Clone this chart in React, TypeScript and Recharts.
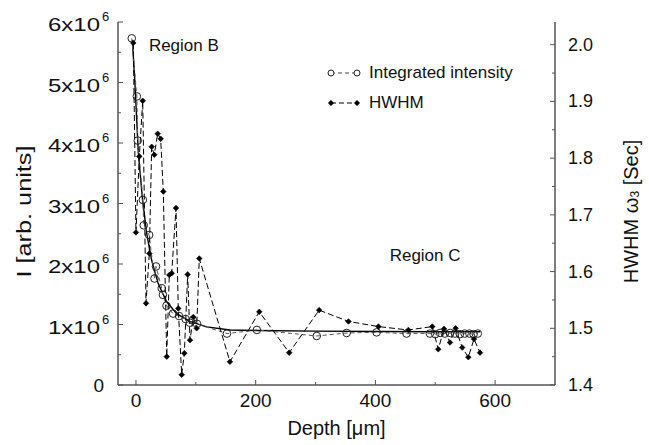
import React from 'react';
import {
  ComposedChart,
  Line,
  XAxis,
  YAxis,
  ReferenceDot,
} from 'recharts';

// ---- Data ----
// Integrated intensity (open circles), depth in µm, intensity in 1e6 arb. units
const intensityDepth = [
  -7, 1.5, 3, 11.5, 13, 22, 31, 33.5, 43, 45, 51, 62, 72, 83, 90, 95, 102, 152,
  202, 302, 352, 402, 452, 491, 500, 508, 516, 525, 533, 541, 549, 557, 564, 571,
];
const intensityValue = [
  5.73, 4.77, 4.04, 3.06, 2.64, 2.48, 1.76, 1.96, 1.6, 1.49, 1.31, 1.18, 1.14,
  1.09, 1.03, 1.07, 1.01, 0.85, 0.91, 0.81, 0.86, 0.87, 0.85, 0.85, 0.84, 0.86,
  0.85, 0.86, 0.85, 0.84, 0.85, 0.85, 0.84, 0.85,
];

// Fitted decay curve (solid line)
const fitDepth = [-6, -2, 4, 11, 18, 26, 37, 51, 68, 90, 118, 157, 200, 300, 400, 500, 575];
const fitValue = [
  5.7, 5.04, 3.83, 3.06, 2.5, 2.07, 1.68, 1.38, 1.18, 1.05, 0.96, 0.91, 0.9,
  0.89, 0.885, 0.88, 0.88,
];

// HWHM (filled diamonds), right axis
const hwhmDepth = [
  -4.4, 0, 5.6, 11.3, 16.8, 22.3, 26.3, 30.6, 36.3, 41.3, 45.7, 51.4, 55.7,
  59.7, 66.9, 70.7, 76.4, 80.8, 86.4, 90.3, 95.8, 101.4, 105.8, 157, 206, 256,
  306, 355, 405, 455, 495, 505, 514.6, 524.6, 534, 545, 555.2, 564.7, 574.7,
];
const hwhmValue = [
  2.003, 1.669, 1.803, 1.901, 1.544, 1.632, 1.82, 1.806, 1.843, 1.834, 1.741,
  1.45, 1.594, 1.597, 1.712, 1.535, 1.418, 1.456, 1.595, 1.479, 1.52, 1.5,
  1.623, 1.441, 1.529, 1.457, 1.532, 1.512, 1.503, 1.497, 1.503, 1.463, 1.499,
  1.475, 1.5, 1.466, 1.449, 1.481, 1.457,
];

// Ticks
const xTicks = [0, 100, 200, 300, 400, 500, 600];
const xMajor = [0, 200, 400, 600];
const leftTicks = [0, 0.5, 1, 1.5, 2, 2.5, 3, 3.5, 4, 4.5, 5, 5.5, 6];
const leftMajor = [0, 1, 2, 3, 4, 5, 6];
const rightTicks = [1.4, 1.45, 1.5, 1.55, 1.6, 1.65, 1.7, 1.75, 1.8, 1.85, 1.9, 1.95, 2.0];
const rightMajor = ['1.4', '1.5', '1.6', '1.7', '1.8', '1.9', '2.0'];

const intensityData = intensityDepth.map((x, i) => ({ x, y: intensityValue[i] }));
const fitData = fitDepth.map((x, i) => ({ x, y: fitValue[i] }));
const hwhmData = hwhmDepth.map((x, i) => ({ x, y: hwhmValue[i] }));

const FONT = 'Liberation Sans, Arial, Helvetica, sans-serif';
const INK = '#111';
const FRAME = '#555';

const isMajor = (list: number[], v: number) => list.some((m) => Math.abs(m - v) < 1e-9);

const BottomTick = (props: any) => {
  const { x, y, payload } = props;
  const v = payload.value as number;
  const major = isMajor(xMajor, v);
  return (
    <g>
      <line x1={x} x2={x} y1={y} y2={y - (major ? 5 : 3)} stroke={FRAME} strokeWidth={1} />
      {major && (
        <text x={x} y={y + 22} textAnchor="middle" fontSize={19} fontFamily={FONT} fill={INK}>
          {String(v)}
        </text>
      )}
    </g>
  );
};

const TopTick = (props: any) => {
  const { x, y, payload } = props;
  const major = isMajor(xMajor, payload.value);
  return <line x1={x} x2={x} y1={y} y2={y + (major ? 5 : 3)} stroke={FRAME} strokeWidth={1} />;
};

const LeftTick = (props: any) => {
  const { x, y, payload } = props;
  const v = payload.value as number;
  const major = isMajor(leftMajor, v);
  return (
    <g>
      <line x1={x} x2={x + (major ? 5 : 3)} y1={y} y2={y} stroke={FRAME} strokeWidth={1} />
      {major && v === 0 && (
        <text x={x - 14} y={y + 7} textAnchor="end" fontSize={19} fontFamily={FONT} fill={INK}>
          0
        </text>
      )}
      {major && v !== 0 && (
        <g>
          <text
            x={x - 70}
            y={y + 9}
            textAnchor="start"
            fontSize={19}
            fontFamily={FONT}
            fill={INK}
            textLength={52}
            lengthAdjust="spacingAndGlyphs"
          >
            {`${v}x10`}
          </text>
          <text x={x - 16} y={y - 1} textAnchor="start" fontSize={13} fontFamily={FONT} fill={INK}>
            6
          </text>
        </g>
      )}
    </g>
  );
};

const RightTick = (props: any) => {
  const { x, y, payload } = props;
  const v = payload.value as number;
  const label = rightMajor.find((m) => Math.abs(parseFloat(m) - v) < 1e-9);
  return (
    <g>
      <line x1={x} x2={x - (label ? 5 : 3)} y1={y} y2={y} stroke={FRAME} strokeWidth={1} />
      {label && (
        <text x={x + 13} y={y + 6} textAnchor="start" fontSize={18} fontFamily={FONT} fill={INK}>
          {label}
        </text>
      )}
    </g>
  );
};

const OpenCircle = (props: any) => {
  const { cx, cy, index } = props;
  if (cx == null || cy == null) return <g key={index} />;
  return <circle key={index} cx={cx} cy={cy} r={3.8} fill="none" stroke="#222" strokeWidth={1} />;
};

const Diamond = (props: any) => {
  const { cx, cy, index } = props;
  if (cx == null || cy == null) return <g key={index} />;
  const s = 2.8;
  return (
    <polygon
      key={index}
      points={`${cx},${cy - s} ${cx + s},${cy} ${cx},${cy + s} ${cx - s},${cy}`}
      fill="#000"
      stroke="#000"
      strokeWidth={0.6}
    />
  );
};

const LegendBox = () => (
  <div
    style={{
      position: 'absolute',
      left: 325,
      top: 58,
      fontFamily: FONT,
      fontSize: 17,
      color: INK,
      lineHeight: '30px',
    }}
  >
    <div style={{ display: 'flex', alignItems: 'center' }}>
      <svg width={40} height={12} style={{ marginRight: 4 }}>
        <line x1={6} x2={32} y1={6} y2={6} stroke="#444" strokeDasharray="4 3" />
        <circle cx={6} cy={6} r={3} fill="white" stroke="#222" />
        <circle cx={32} cy={6} r={3} fill="white" stroke="#222" />
      </svg>
      <span>Integrated intensity</span>
    </div>
    <div style={{ display: 'flex', alignItems: 'center' }}>
      <svg width={40} height={12} style={{ marginRight: 4 }}>
        <line x1={6} x2={32} y1={6} y2={6} stroke="#000" strokeDasharray="5 3" />
        <polygon points="6,3 9,6 6,9 3,6" fill="#000" />
        <polygon points="32,3 35,6 32,9 29,6" fill="#000" />
      </svg>
      <span>HWHM</span>
    </div>
  </div>
);

export default function App() {
  return (
    <div style={{ position: 'absolute', left: 0, top: 0, width: 649, height: 445, background: '#fff' }}>
      <ComposedChart
        width={649}
        height={445}
        margin={{ top: 22, right: 0, bottom: 0, left: 0 }}
      >
        <XAxis
          xAxisId="bottom"
          dataKey="x"
          type="number"
          domain={[-30, 700]}
          ticks={xTicks}
          interval={0}
          tickSize={0}
          tickMargin={0}
          tickLine={false}
          tick={<BottomTick />}
          height={60}
          axisLine={{ stroke: FRAME, strokeWidth: 1.5 }}
          allowDataOverflow
          label={{
            content: (p: any) => {
              const vb = p.viewBox;
              return (
                <text
                  x={vb.x + vb.width / 2}
                  y={vb.y + 50}
                  textAnchor="middle"
                  fontSize={20}
                  fontFamily={FONT}
                  fill={INK}
                >
                  Depth [μm]
                </text>
              );
            },
          }}
        />
        <XAxis
          xAxisId="top"
          orientation="top"
          dataKey="x"
          type="number"
          domain={[-30, 700]}
          ticks={xTicks}
          interval={0}
          tickSize={0}
          tickMargin={0}
          tickLine={false}
          tick={<TopTick />}
          height={0}
          axisLine={{ stroke: FRAME, strokeWidth: 1.5 }}
          allowDataOverflow
        />
        <YAxis
          yAxisId="left"
          type="number"
          domain={[0, 6]}
          ticks={leftTicks}
          interval={0}
          tickSize={0}
          tickMargin={0}
          tickLine={false}
          tick={<LeftTick />}
          width={118}
          axisLine={{ stroke: FRAME, strokeWidth: 1.5 }}
          allowDataOverflow
          label={{
            content: (p: any) => {
              const vb = p.viewBox;
              const cx = 23;
              const cy = vb.y + vb.height / 2 + 8;
              return (
                <text
                  x={cx}
                  y={cy}
                  transform={`rotate(-90 ${cx} ${cy})`}
                  textAnchor="middle"
                  dominantBaseline="central"
                  fontSize={21}
                  fontFamily={FONT}
                  fill={INK}
                  textLength={132}
                  lengthAdjust="spacingAndGlyphs"
                >
                  I [arb. units]
                </text>
              );
            },
          }}
        />
        <YAxis
          yAxisId="right"
          orientation="right"
          type="number"
          domain={[1.4, 2.04]}
          ticks={rightTicks}
          interval={0}
          tickSize={0}
          tickMargin={0}
          tickLine={false}
          tick={<RightTick />}
          width={94}
          axisLine={{ stroke: FRAME, strokeWidth: 1.5 }}
          allowDataOverflow
          label={{
            content: (p: any) => {
              const vb = p.viewBox;
              const cx = vb.x + 76;
              const cy = vb.y + vb.height / 2 + 8;
              return (
                <text
                  x={cx}
                  y={cy}
                  transform={`rotate(-90 ${cx} ${cy})`}
                  textAnchor="middle"
                  dominantBaseline="central"
                  fontSize={20}
                  fontFamily={FONT}
                  fill={INK}
                >
                  HWHM ω
                  <tspan fontSize={12} dy={4}>3</tspan>
                  <tspan dy={-4}> [Sec]</tspan>
                </text>
              );
            },
          }}
        />
        <Line
          data={fitData}
          xAxisId="bottom"
          yAxisId="left"
          dataKey="y"
          type="linear"
          stroke="#000"
          strokeWidth={1.4}
          dot={false}
          activeDot={false}
          isAnimationActive={false}
          legendType="none"
        />
        <Line
          data={intensityData}
          xAxisId="bottom"
          yAxisId="left"
          dataKey="y"
          type="linear"
          stroke="#555"
          strokeWidth={1}
          strokeDasharray="4 3"
          dot={<OpenCircle />}
          activeDot={false}
          isAnimationActive={false}
        />
        <Line
          data={hwhmData}
          xAxisId="bottom"
          yAxisId="right"
          dataKey="y"
          type="linear"
          stroke="#000"
          strokeWidth={1}
          strokeDasharray="6 3"
          dot={<Diamond />}
          activeDot={false}
          isAnimationActive={false}
        />
        <ReferenceDot
          xAxisId="bottom"
          yAxisId="left"
          x={80}
          y={5.62}
          r={0}
          fill="none"
          stroke="none"
          label={{ value: 'Region B', position: 'center', fontSize: 17, fontFamily: FONT, fill: INK }}
        />
        <ReferenceDot
          xAxisId="bottom"
          yAxisId="left"
          x={483}
          y={2.15}
          r={0}
          fill="none"
          stroke="none"
          label={{ value: 'Region C', position: 'center', fontSize: 17, fontFamily: FONT, fill: INK }}
        />
      </ComposedChart>
      <LegendBox />
    </div>
  );
}
